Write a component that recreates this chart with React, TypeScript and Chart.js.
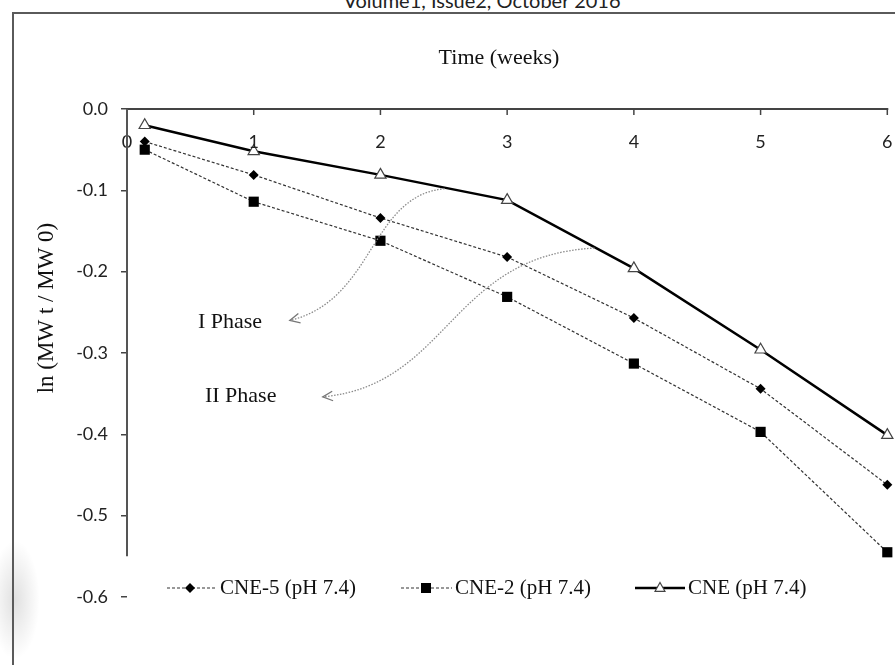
import React, { useEffect, useRef } from "react";
import { Chart, registerables } from "chart.js";

Chart.register(...registerables);

// ---- data ----
const weeks = [0.14, 1, 2, 3, 4, 5, 6];
const cne5 = [-0.04, -0.081, -0.134, -0.182, -0.257, -0.344, -0.462];
const cne2 = [-0.05, -0.114, -0.162, -0.231, -0.313, -0.397, -0.545];
const cne = [-0.02, -0.052, -0.081, -0.112, -0.196, -0.296, -0.401];
const seriesLabels = ["CNE-5 (pH 7.4)", "CNE-2 (pH 7.4)", "CNE (pH 7.4)"];
const xTickValues = [0, 1, 2, 3, 4, 5, 6];
const xTitle = "Time (weeks)";
const yTitle = "ln (MW t / MW 0)";
const phaseLabels = ["I Phase", "II Phase"];
const headerText = "Volume1, Issue2, October 2016";

const SERIF = '"Liberation Serif", "Times New Roman", serif';
const SANS = 'Lato, "Open Sans", sans-serif';

function drawMarker(ctx: CanvasRenderingContext2D, kind: string, x: number, y: number, s: number) {
  ctx.save();
  ctx.setLineDash([]);
  if (kind === "diamond") {
    ctx.fillStyle = "#000";
    ctx.beginPath();
    ctx.moveTo(x - s, y);
    ctx.lineTo(x, y - s);
    ctx.lineTo(x + s, y);
    ctx.lineTo(x, y + s);
    ctx.closePath();
    ctx.fill();
  } else if (kind === "square") {
    ctx.fillStyle = "#000";
    ctx.fillRect(x - s, y - s, 2 * s, 2 * s);
  } else {
    ctx.fillStyle = "#fff";
    ctx.strokeStyle = "#444";
    ctx.lineWidth = 1.2;
    ctx.beginPath();
    ctx.moveTo(x, y - s);
    ctx.lineTo(x + s * 0.9, y + s * 0.6);
    ctx.lineTo(x - s * 0.9, y + s * 0.6);
    ctx.closePath();
    ctx.fill();
    ctx.stroke();
  }
  ctx.restore();
}

const decorPlugin = {
  id: "decor",
  afterDraw(chart: any) {
    const ctx: CanvasRenderingContext2D = chart.ctx;
    const xs = chart.scales.x;
    const ys = chart.scales.y;
    const px = (v: number) => xs.getPixelForValue(v);
    const py = (v: number) => ys.getPixelForValue(v);
    ctx.save();

    // x axis (top, crossing at y = 0)
    const y0 = py(0);
    ctx.strokeStyle = "#444";
    ctx.lineWidth = 2;
    ctx.beginPath();
    ctx.moveTo(px(0), y0);
    ctx.lineTo(px(6) + 1, y0);
    ctx.stroke();
    ctx.lineWidth = 1.5;
    xTickValues.forEach((t) => {
      ctx.beginPath();
      ctx.moveTo(px(t), y0);
      ctx.lineTo(px(t), y0 + 6);
      ctx.stroke();
    });
    ctx.fillStyle = "#222";
    ctx.font = `18px ${SANS}`;
    ctx.textAlign = "center";
    ctx.textBaseline = "middle";
    xTickValues.forEach((t) => {
      ctx.fillText(String(t), px(t), y0 + 33);
    });

    // y axis line (to -0.55)
    ctx.strokeStyle = "#555";
    ctx.lineWidth = 2;
    ctx.beginPath();
    ctx.moveTo(px(0), y0);
    ctx.lineTo(px(0), py(-0.55));
    ctx.stroke();

    // titles
    ctx.fillStyle = "#111";
    ctx.font = `22px ${SERIF}`;
    ctx.textAlign = "center";
    ctx.textBaseline = "middle";
    ctx.fillText(xTitle, 499, 58);
    ctx.save();
    ctx.translate(47, 308);
    ctx.rotate(-Math.PI / 2);
    ctx.font = `23px ${SERIF}`;
    ctx.fillText(yTitle, 0, 0);
    ctx.restore();

    // phase labels
    ctx.font = `22px ${SERIF}`;
    ctx.textAlign = "left";
    ctx.fillText(phaseLabels[0], px(0.56), py(-0.262));
    ctx.fillText(phaseLabels[1], px(0.615), py(-0.353));

    // curved arrows
    const arrows = [
      [[2.507, -0.098], [1.916, -0.106], [1.955, -0.235], [1.285, -0.26]],
      [[3.69, -0.171], [2.547, -0.18], [2.547, -0.339], [1.545, -0.354]],
    ];
    arrows.forEach((a) => {
      const p = a.map(([wx, wy]) => [px(wx), py(wy)]);
      ctx.strokeStyle = "#8a8a8a";
      ctx.lineWidth = 1.3;
      ctx.setLineDash([1.5, 1.5]);
      ctx.beginPath();
      ctx.moveTo(p[0][0], p[0][1]);
      ctx.bezierCurveTo(p[1][0], p[1][1], p[2][0], p[2][1], p[3][0], p[3][1]);
      ctx.stroke();
      ctx.setLineDash([]);
      const ang = Math.atan2(p[3][1] - p[2][1], p[3][0] - p[2][0]);
      const L = 11;
      ctx.strokeStyle = "#777";
      ctx.lineWidth = 1.3;
      ctx.beginPath();
      ctx.moveTo(p[3][0] - L * Math.cos(ang - 0.45), p[3][1] - L * Math.sin(ang - 0.45));
      ctx.lineTo(p[3][0], p[3][1]);
      ctx.lineTo(p[3][0] - L * Math.cos(ang + 0.45), p[3][1] - L * Math.sin(ang + 0.45));
      ctx.stroke();
    });

    // legend
    const ly = 588;
    const items = [
      { x0: 167, x1: 217, m: 190, tx: 220, kind: "diamond", dash: true, s: 5 },
      { x0: 401, x1: 452, m: 426, tx: 455, kind: "square", dash: true, s: 5 },
      { x0: 635, x1: 685, m: 660, tx: 688, kind: "triangle", dash: false, s: 5.5 },
    ];
    items.forEach((it, i) => {
      ctx.save();
      if (it.dash) {
        ctx.strokeStyle = "#333";
        ctx.lineWidth = 1.2;
        ctx.setLineDash([3, 2]);
      } else {
        ctx.strokeStyle = "#000";
        ctx.lineWidth = 2.5;
      }
      ctx.beginPath();
      ctx.moveTo(it.x0, ly);
      ctx.lineTo(it.x1, ly);
      ctx.stroke();
      ctx.restore();
      drawMarker(ctx, it.kind, it.m, ly, it.s);
      ctx.fillStyle = "#111";
      ctx.font = `21px ${SERIF}`;
      ctx.textAlign = "left";
      ctx.textBaseline = "middle";
      ctx.fillText(seriesLabels[i], it.tx, ly);
    });

    ctx.restore();
  },
};

export default function App() {
  const canvasRef = useRef<HTMLCanvasElement | null>(null);

  useEffect(() => {
    const canvas = canvasRef.current;
    if (!canvas) return;
    const toPts = (ys: number[]) => weeks.map((w, i) => ({ x: w, y: ys[i] }));
    const chart = new Chart(canvas, {
      type: "line",
      data: {
        datasets: [
          {
            label: seriesLabels[2],
            data: toPts(cne),
            borderColor: "#000",
            borderWidth: 2.5,
            pointStyle: "triangle",
            pointRadius: 6.5,
            pointBackgroundColor: "#fff",
            pointBorderColor: "#444",
            pointBorderWidth: 1.2,
            clip: false as any,
          },
          {
            label: seriesLabels[0],
            data: toPts(cne5),
            borderColor: "#333",
            borderWidth: 1.2,
            borderDash: [3, 2],
            pointStyle: "rectRot",
            pointRadius: 5,
            pointBackgroundColor: "#000",
            pointBorderColor: "#000",
            pointBorderWidth: 0,
            clip: false as any,
          },
          {
            label: seriesLabels[1],
            data: toPts(cne2),
            borderColor: "#333",
            borderWidth: 1.2,
            borderDash: [3, 2],
            pointStyle: "rect",
            pointRadius: 7.2,
            pointBackgroundColor: "#000",
            pointBorderColor: "#000",
            pointBorderWidth: 0,
            clip: false as any,
          },
        ],
      },
      options: {
        animation: false,
        responsive: false,
        maintainAspectRatio: false,
        layout: { padding: { left: 0, top: 109, right: 7, bottom: 68 } },
        plugins: { legend: { display: false }, tooltip: { enabled: false }, title: { display: false } },
        scales: {
          x: {
            type: "linear",
            min: 0,
            max: 6,
            display: false,
          },
          y: {
            type: "linear",
            min: -0.6,
            max: 0,
            afterFit: (scale: any) => {
              scale.width = 127;
            },
            border: { display: false },
            grid: {
              drawOnChartArea: false,
              drawTicks: true,
              tickLength: 6,
              color: "#444",
              lineWidth: 1.5,
            },
            ticks: {
              stepSize: 0.1,
              padding: 13,
              color: "#222",
              font: { family: SANS, size: 18 },
              callback: (v: any) => {
                const n = Number(v);
                return Math.abs(n) < 1e-9 ? "0.0" : n.toFixed(1);
              },
            },
          },
        },
      },
      plugins: [decorPlugin],
    });
    return () => chart.destroy();
  }, []);

  return (
    <div style={{ position: "fixed", left: 0, top: 0, width: 895, height: 665, overflow: "hidden", background: "#fff" }}>
      <div
        style={{
          position: "absolute",
          left: 282,
          top: -12,
          width: 400,
          textAlign: "center",
          fontFamily: SANS,
          fontSize: 20,
          color: "#222",
          whiteSpace: "nowrap",
        }}
      >
        {headerText}
      </div>
      <div
        style={{
          position: "absolute",
          left: 0,
          top: 540,
          width: 40,
          height: 120,
          background: "radial-gradient(ellipse at 15px 60px, rgba(0,0,0,0.12), rgba(0,0,0,0) 70%)",
        }}
      />
      <div
        style={{
          position: "absolute",
          left: 12,
          top: 12,
          width: 950,
          height: 720,
          borderLeft: "2px solid #5a5a5a",
          borderTop: "2px solid #5a5a5a",
        }}
      />
      <canvas ref={canvasRef} width={895} height={665} style={{ position: "absolute", left: 0, top: 0, width: 895, height: 665 }} />
    </div>
  );
}
